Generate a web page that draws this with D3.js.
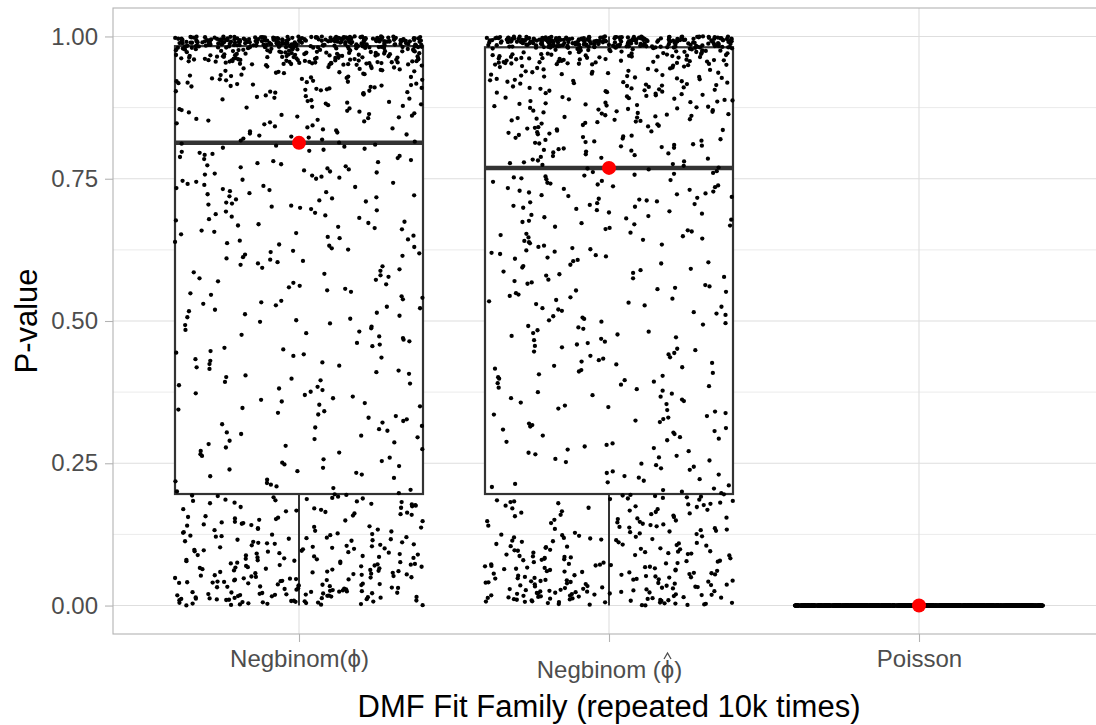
<!DOCTYPE html>
<html>
<head>
<meta charset="utf-8">
<script src="https://cdn.jsdelivr.net/npm/d3@7"></script>
<style>
  html, body { margin: 0; padding: 0; background: #fff; }
  svg { display: block; font-family: "Liberation Sans", Arial, Helvetica, sans-serif; }
</style>
</head>
<body>
<svg id="chart" width="1096" height="725"></svg>
<script>
// ---------------- data ----------------
const categories = ["Negbinom(ϕ)", "Negbinom (ϕ)", "Poisson"];
const yTicks = [0, 0.25, 0.5, 0.75, 1];
const yTickLabels = ["0.00", "0.25", "0.50", "0.75", "1.00"];
const yMinorTicks = [0.125, 0.375, 0.625, 0.875];

// box statistics per category
const boxLower  = [0, 0, 0];
const boxQ1     = [0.196, 0.196, 0];
const boxMedian = [0.813, 0.769, 0];
const boxQ3     = [0.983, 0.981, 0];
const boxUpper  = [1, 1, 0];
// red summary dots (median)
const summaryDot = [0.813, 0.769, 0];

// distribution of the jittered p-values: bin edges + counts per bin
const binEdgesNB = [0, 0.025, 0.05, 0.075, 0.1, 0.125, 0.15, 0.175, 0.196,
                    0.3, 0.4, 0.5, 0.6, 0.7, 0.8, 0.85, 0.9, 0.95, 0.98, 0.99, 1.0];
const countsNegbinomPhi    = [55, 40, 35, 30, 28, 22, 20, 20,
                              35, 35, 35, 38, 45, 55, 28, 35, 60, 125, 100, 150];
const countsNegbinomPhiHat = [55, 42, 35, 30, 26, 22, 20, 20,
                              38, 38, 40, 42, 48, 64, 40, 50, 60, 80, 100, 150];
const binEdgesPoisson = [0, 0];
const countsPoisson = [1000];

const groups = [
  { edges: binEdgesNB, counts: countsNegbinomPhi },
  { edges: binEdgesNB, counts: countsNegbinomPhiHat },
  { edges: binEdgesPoisson, counts: countsPoisson }
];

// ---------------- layout ----------------
const svg = d3.select("#chart");
const panel = { left: 113, top: 8, right: 1105, bottom: 634 };

const x = d3.scaleLinear().domain([0.4, 3.6]).range([panel.left, panel.right]);
const y = d3.scaleLinear().domain([-0.05, 1.05]).range([panel.bottom, panel.top]);

const gridCol = "#DEDEDE";
const boxCol = "#333333";

svg.append("defs").append("clipPath").attr("id", "clip")
  .append("rect").attr("x", panel.left).attr("y", panel.top)
  .attr("width", panel.right - panel.left).attr("height", panel.bottom - panel.top);

const plot = svg.append("g").attr("clip-path", "url(#clip)");

// grid
plot.selectAll("line.minor").data(yMinorTicks).join("line")
  .attr("x1", panel.left).attr("x2", panel.right)
  .attr("y1", d => y(d)).attr("y2", d => y(d))
  .attr("stroke", gridCol).attr("stroke-width", 0.6);
plot.selectAll("line.majorY").data(yTicks).join("line")
  .attr("x1", panel.left).attr("x2", panel.right)
  .attr("y1", d => y(d)).attr("y2", d => y(d))
  .attr("stroke", gridCol).attr("stroke-width", 1.1);
plot.selectAll("line.majorX").data(categories.map((c, i) => i + 1)).join("line")
  .attr("x1", d => x(d)).attr("x2", d => x(d))
  .attr("y1", panel.top).attr("y2", panel.bottom)
  .attr("stroke", gridCol).attr("stroke-width", 1.1);

// boxplots
const bw = 0.8;
categories.forEach((c, i) => {
  const cx = i + 1;
  const g = plot.append("g");
  g.append("line").attr("x1", x(cx)).attr("x2", x(cx))
    .attr("y1", y(boxQ1[i])).attr("y2", y(boxLower[i]))
    .attr("stroke", boxCol).attr("stroke-width", 2);
  g.append("line").attr("x1", x(cx)).attr("x2", x(cx))
    .attr("y1", y(boxQ3[i])).attr("y2", y(boxUpper[i]))
    .attr("stroke", boxCol).attr("stroke-width", 2);
  g.append("rect")
    .attr("x", x(cx - bw / 2)).attr("width", x(cx + bw / 2) - x(cx - bw / 2))
    .attr("y", y(boxQ3[i])).attr("height", Math.max(0, y(boxQ1[i]) - y(boxQ3[i])))
    .attr("fill", "#fff").attr("stroke", boxCol).attr("stroke-width", 2.2);
  g.append("line")
    .attr("x1", x(cx - bw / 2)).attr("x2", x(cx + bw / 2))
    .attr("y1", y(boxMedian[i])).attr("y2", y(boxMedian[i]))
    .attr("stroke", boxCol).attr("stroke-width", 4.5);
});

// jittered points: values spread evenly through each read bin,
// horizontal jitter from a deterministic integer hash (no Math.random)
function hash01(n) {
  n = (n ^ 61) ^ (n >>> 16);
  n = n + (n << 3);
  n = n ^ (n >>> 4);
  n = Math.imul(n, 0x27d4eb2d);
  n = n ^ (n >>> 15);
  return (n >>> 0) / 4294967296;
}
const pts = [];
groups.forEach((grp, gi) => {
  let idx = 0;
  grp.counts.forEach((n, b) => {
    const lo = grp.edges[b], hi = grp.edges[b + 1];
    for (let k = 0; k < n; k++) {
      idx++;
      const jit = hash01(idx * 7919 + gi * 104729 + 17) * 0.8 - 0.4;
      pts.push({ cat: gi + 1, jit: jit, val: lo + (hi - lo) * (k + 0.5) / n });
    }
  });
});
plot.append("g").selectAll("circle").data(pts).join("circle")
  .attr("cx", d => x(d.cat + d.jit))
  .attr("cy", d => y(d.val))
  .attr("r", 2.15)
  .attr("fill", "#000");

// red summary dots
plot.append("g").selectAll("circle").data(summaryDot).join("circle")
  .attr("cx", (d, i) => x(i + 1))
  .attr("cy", d => y(d))
  .attr("r", 7)
  .attr("fill", "#FF0000");

// panel border
svg.append("rect")
  .attr("x", panel.left).attr("y", panel.top)
  .attr("width", panel.right - panel.left).attr("height", panel.bottom - panel.top)
  .attr("fill", "none").attr("stroke", "#B3B3B3").attr("stroke-width", 1.1);

// y axis
const yAxis = d3.axisLeft(y).tickValues(yTicks)
  .tickFormat((d, i) => yTickLabels[i]).tickSizeInner(8).tickSizeOuter(0).tickPadding(7);
const gy = svg.append("g").attr("transform", `translate(${panel.left},0)`).call(yAxis);
gy.select(".domain").remove();
gy.selectAll(".tick line").attr("stroke", "#B3B3B3").attr("stroke-width", 1.1);
gy.selectAll(".tick text").attr("fill", "#4D4D4D")
  .style("font-size", "24px").style("font-family", "'Liberation Sans', Arial, sans-serif");

// x axis
const xAxis = d3.axisBottom(x).tickValues([1, 2, 3])
  .tickFormat((d, i) => categories[i]).tickSizeInner(8).tickSizeOuter(0).tickPadding(8);
const gx = svg.append("g").attr("transform", `translate(0,${panel.bottom})`).call(xAxis);
gx.select(".domain").remove();
gx.selectAll(".tick line").attr("stroke", "#B3B3B3").attr("stroke-width", 1.1);
gx.selectAll(".tick text").attr("fill", "#4D4D4D")
  .style("font-size", "24px").style("font-family", "'Liberation Sans', Arial, sans-serif");

// second label: hat over phi, shifted lower like plotmath
gx.selectAll(".tick").filter((d, i) => i === 1).each(function () {
  const t = d3.select(this).select("text");
  t.attr("y", 27);
  const node = t.node();
  const pos = categories[1].indexOf("ϕ");
  const start = node.getStartPositionOfChar(pos);
  const end = node.getEndPositionOfChar(pos);
  const cxh = (start.x + end.x) / 2;
  const baseY = start.y;
  d3.select(this).append("path")
    .attr("d", `M${cxh - 3.5},${baseY - 19} L${cxh},${baseY - 25} L${cxh + 3.5},${baseY - 19}`)
    .attr("fill", "none").attr("stroke", "#4D4D4D").attr("stroke-width", 1.3);
});

// axis titles
svg.append("text")
  .attr("x", (panel.left + panel.right) / 2).attr("y", 717)
  .attr("text-anchor", "middle").attr("fill", "#000")
  .style("font-size", "31px")
  .text("DMF Fit Family (repeated 10k times)");
svg.append("text")
  .attr("transform", `translate(37,${(panel.top + panel.bottom) / 2}) rotate(-90)`)
  .attr("text-anchor", "middle").attr("fill", "#000")
  .style("font-size", "31px")
  .text("P-value");
</script>
</body>
</html>
